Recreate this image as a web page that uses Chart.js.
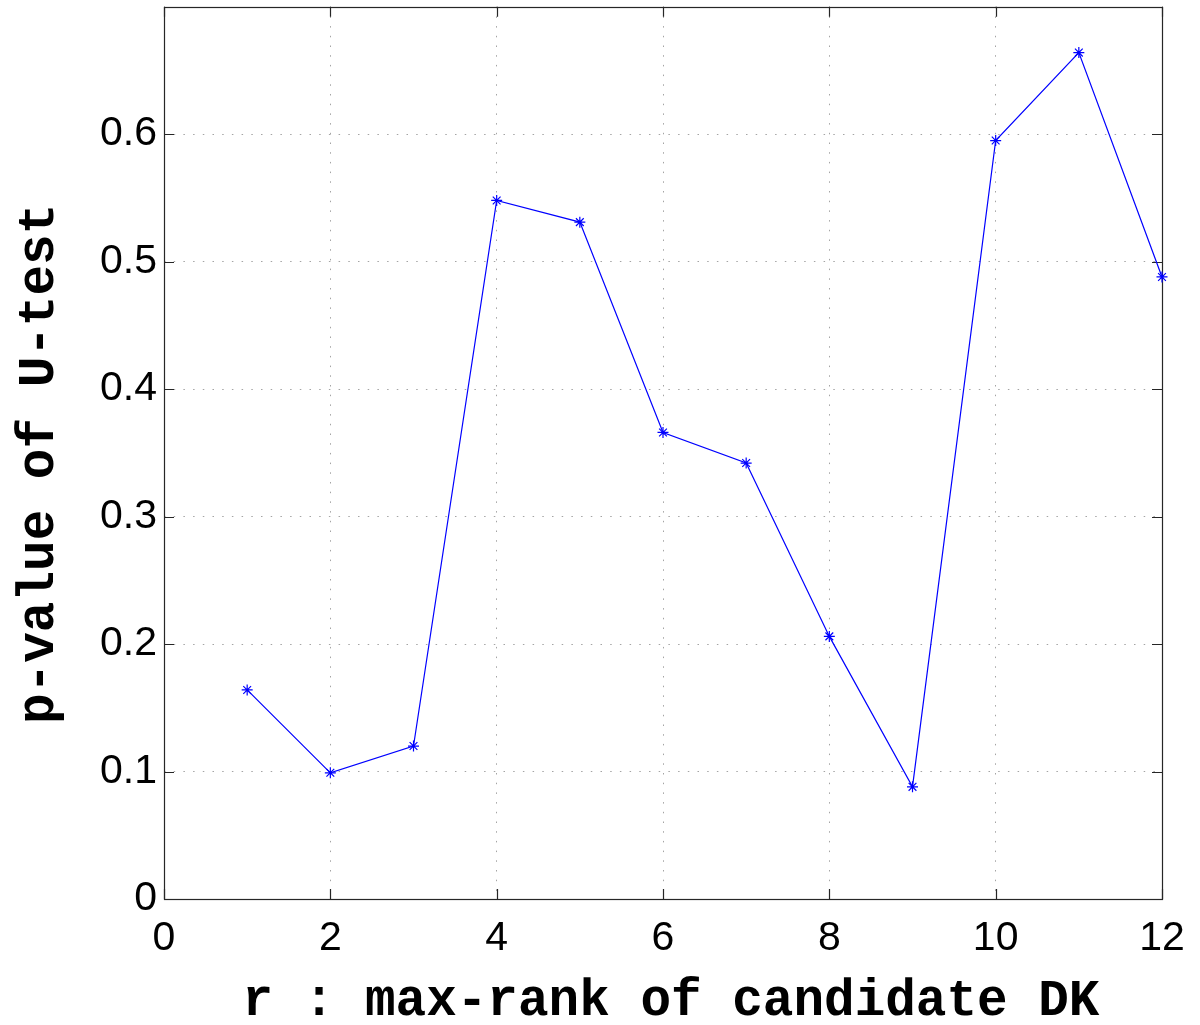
<!DOCTYPE html>
<html>
<head>
<meta charset="utf-8">
<script src="https://cdn.jsdelivr.net/npm/chart.js@4.4.1/dist/chart.umd.min.js"></script>
<style>
  html, body { margin: 0; padding: 0; background: #ffffff; }
  #wrap { width: 1200px; height: 1025px; }
</style>
</head>
<body>
<div id="wrap"><canvas id="c" width="1200" height="1025"></canvas></div>
<script>
// ---- data ----
const maxRank = [1, 2, 3, 4, 5, 6, 7, 8, 9, 10, 11, 12];
const pValues = [0.164, 0.099, 0.120, 0.548, 0.531, 0.366, 0.342, 0.206, 0.088, 0.595, 0.664, 0.488];
const xTicks = [0, 2, 4, 6, 8, 10, 12];
const yTicks = [0, 0.1, 0.2, 0.3, 0.4, 0.5, 0.6];
const xTitle = 'r : max-rank of candidate DK';
const yTitle = 'p-value of U-test';

const points = maxRank.map((r, i) => ({ x: r, y: pValues[i] }));

const tickFont = { family: "'Liberation Sans', Arial, Helvetica, sans-serif", size: 41 };
const titleFontCss = "bold 51px 'Liberation Mono', 'DejaVu Sans Mono', monospace";

// box + inward tick marks (MATLAB style) and axis titles
const boxPlugin = {
  id: 'matlabBox',
  beforeDatasetsDraw(chart) {
    const { ctx, chartArea: a, scales } = chart;
    ctx.save();
    ctx.strokeStyle = '#262626';
    ctx.lineWidth = 1.2;
    ctx.beginPath();
    const len = 10;
    xTicks.forEach(v => {
      const px = Math.round(scales.x.getPixelForValue(v)) + 0.5;
      ctx.moveTo(px, a.bottom); ctx.lineTo(px, a.bottom - len);
      ctx.moveTo(px, a.top); ctx.lineTo(px, a.top + len);
    });
    yTicks.forEach(v => {
      const py = Math.round(scales.y.getPixelForValue(v)) + 0.5;
      ctx.moveTo(a.left, py); ctx.lineTo(a.left + len, py);
      ctx.moveTo(a.right, py); ctx.lineTo(a.right - len, py);
    });
    ctx.stroke();
    ctx.strokeRect(Math.round(a.left) + 0.5, Math.round(a.top) + 0.5,
                   Math.round(a.right - a.left), Math.round(a.bottom - a.top));
    ctx.restore();
  },
  afterDraw(chart) {
    const { ctx, chartArea: a } = chart;
    ctx.save();
    ctx.fillStyle = '#000';
    ctx.font = titleFontCss;
    ctx.textAlign = 'center';
    ctx.textBaseline = 'alphabetic';
    // x-axis title
    ctx.fillText(xTitle, (a.left + a.right) / 2 + 8, 1015);
    // y-axis title (rotated)
    ctx.translate(53, (a.top + a.bottom) / 2 + 11);
    ctx.rotate(-Math.PI / 2);
    ctx.fillText(yTitle, 0, 0);
    ctx.restore();
  }
};

new Chart(document.getElementById('c'), {
  type: 'line',
  data: {
    datasets: [{
      data: points,
      borderColor: '#0000ff',
      backgroundColor: '#0000ff',
      borderWidth: 1.2,
      tension: 0,
      fill: false,
      pointStyle: 'star',
      pointRadius: 5.5,
      pointBorderWidth: 1.2,
      pointBorderColor: '#0000ff',
      clip: false
    }]
  },
  options: {
    responsive: false,
    animation: false,
    devicePixelRatio: 1,
    layout: { padding: { top: 6, right: 38, left: 0, bottom: 0 } },
    plugins: { legend: { display: false }, tooltip: { enabled: false } },
    scales: {
      x: {
        type: 'linear',
        min: 0, max: 12,
        afterBuildTicks: s => { s.ticks = xTicks.map(v => ({ value: v })); },
        afterFit: s => { s.height = 126; s.paddingLeft = 0; s.paddingRight = 0; },
        ticks: { font: tickFont, color: '#000', padding: 15, maxRotation: 0,
                 callback: v => String(v) },
        grid: { color: 'rgba(90,90,90,0.55)', lineWidth: 1, drawTicks: false },
        border: { display: false, dash: [1.5, 8.2] },
        title: { display: false }
      },
      y: {
        type: 'linear',
        min: 0, max: 0.7,
        afterBuildTicks: s => { s.ticks = yTicks.map(v => ({ value: v })); },
        afterFit: s => { s.width = 164; s.paddingTop = 0; s.paddingBottom = 0; },
        ticks: { font: tickFont, color: '#000', padding: 7,
                 callback: v => (Math.abs(v) < 1e-9 ? '0' : (Math.round(v * 10) / 10).toString()) },
        grid: { color: 'rgba(90,90,90,0.55)', lineWidth: 1, drawTicks: false },
        border: { display: false, dash: [1.5, 8.2] },
        title: { display: false }
      }
    }
  },
  plugins: [boxPlugin]
});
</script>
</body>
</html>
